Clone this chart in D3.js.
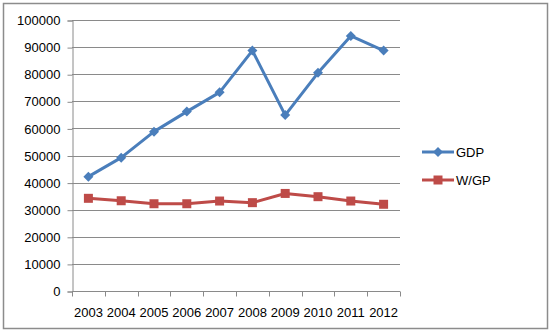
<!DOCTYPE html>
<html>
<head>
  <script src="https://d3js.org/d3.v7.min.js"></script>
  <style>
    body { margin: 0; background: #fff; }
    text { font-family: "Liberation Sans", Arial, sans-serif; font-size: 13px; fill: #000; }
  </style>
</head>
<body>
  <svg width="553" height="336"></svg>
  <script>
    const years = ["2003", "2004", "2005", "2006", "2007", "2008", "2009", "2010", "2011", "2012"];
    const gdp = [42200, 49200, 58800, 66200, 73300, 88700, 64900, 80500, 94100, 88700];
    const wgp = [34200, 33300, 32200, 32200, 33200, 32600, 36000, 34800, 33200, 32000];
    const yTicks = [0, 10000, 20000, 30000, 40000, 50000, 60000, 70000, 80000, 90000, 100000];

    const svg = d3.select("svg");

    // chart frame
    svg.append("rect")
      .attr("x", 3.5).attr("y", 3.5)
      .attr("width", 544).attr("height", 325)
      .attr("fill", "#fff")
      .attr("stroke", "#8c8c8c")
      .attr("stroke-width", 1.5);

    const x = d3.scaleBand().domain(years).range([72, 400]);
    const y = d3.scaleLinear().domain([0, 100000]).range([291, 20]);

    const g = svg.append("g");

    // gridlines
    g.selectAll(".grid")
      .data(yTicks)
      .enter().append("line")
      .attr("class", "grid")
      .attr("x1", 72).attr("x2", 400)
      .attr("y1", d => Math.round(y(d)) + 0.5)
      .attr("y2", d => Math.round(y(d)) + 0.5)
      .attr("stroke", "#8a8a8a");

    // y axis
    const yAxis = g.append("g")
      .attr("transform", "translate(72.5,0.5)")
      .call(d3.axisLeft(y).tickValues(yTicks).tickSize(5).tickPadding(7).tickFormat(d3.format("d")));
    yAxis.select(".domain").attr("stroke", "#8a8a8a");
    yAxis.selectAll(".tick line").attr("stroke", "#8a8a8a");
    yAxis.selectAll("text").attr("fill", "#000").style("font-size", "13px")
      .attr("font-family", null);

    // x axis with ticks between categories
    const xAxisG = g.append("g").attr("transform", "translate(0,291.5)");
    xAxisG.append("line")
      .attr("x1", 72).attr("x2", 400)
      .attr("stroke", "#8a8a8a");
    const edges = years.map(d => x(d)).concat([400]);
    xAxisG.selectAll(".xt")
      .data(edges)
      .enter().append("line")
      .attr("class", "xt")
      .attr("x1", d => Math.round(d) + 0.5).attr("x2", d => Math.round(d) + 0.5)
      .attr("y1", 0).attr("y2", 5)
      .attr("stroke", "#8a8a8a");
    xAxisG.selectAll(".xl")
      .data(years)
      .enter().append("text")
      .attr("x", d => x(d) + x.bandwidth() / 2)
      .attr("y", 25)
      .attr("text-anchor", "middle")
      .text(d => d);

    const cx = (d, i) => x(years[i]) + x.bandwidth() / 2;
    const line = d3.line().x(cx).y(d => y(d));

    // diamond = square turned 45 degrees, like the spreadsheet marker
    const series = [
      { name: "GDP", values: gdp, color: "#4a7ebb", marker: d3.symbolSquare, size: 50, rot: 45 },
      { name: "W/GP", values: wgp, color: "#be4b48", marker: d3.symbolSquare, size: 81, rot: 0 }
    ];

    series.forEach(s => {
      g.append("path")
        .datum(s.values)
        .attr("d", line)
        .attr("fill", "none")
        .attr("stroke", s.color)
        .attr("stroke-width", 3)
        .attr("stroke-linejoin", "round");
      g.selectAll(null)
        .data(s.values)
        .enter().append("path")
        .attr("d", d3.symbol().type(s.marker).size(s.size))
        .attr("transform", (d, i) => `translate(${cx(d, i)},${y(d)}) rotate(${s.rot})`)
        .attr("fill", s.color);
    });

    // legend
    const legend = g.selectAll(".legend")
      .data(series)
      .enter().append("g")
      .attr("class", "legend")
      .attr("transform", (d, i) => `translate(422,${152 + i * 28})`);
    legend.append("line")
      .attr("x1", 0).attr("x2", 32)
      .attr("stroke", d => d.color)
      .attr("stroke-width", 3);
    legend.append("path")
      .attr("d", d => d3.symbol().type(d.marker).size(d.size)())
      .attr("transform", d => `translate(16,0) rotate(${d.rot})`)
      .attr("fill", d => d.color);
    legend.append("text")
      .attr("x", 34).attr("y", 5)
      .text(d => d.name);
  </script>
</body>
</html>
